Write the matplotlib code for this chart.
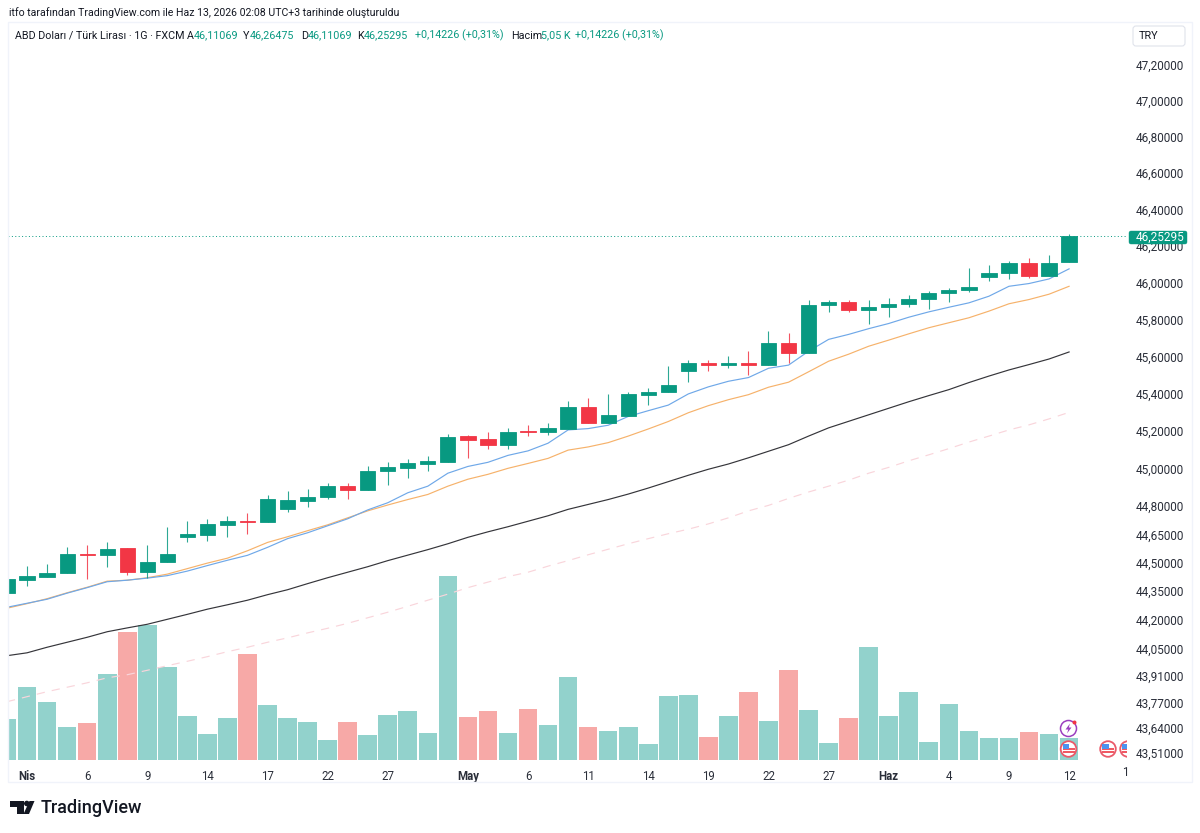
import matplotlib
matplotlib.use("Agg")
import matplotlib.pyplot as plt
from matplotlib.patches import Circle, Rectangle, Polygon, FancyBboxPatch
from matplotlib.ticker import FixedLocator, NullLocator, FixedFormatter

plt.rcParams['font.family'] = ['Roboto', 'DejaVu Sans']

opens = [44.343,44.411,44.427,44.448,44.548,44.542,44.579,44.453,44.506,44.637,44.648,44.700,44.721,44.716,44.784,44.826,44.847,44.905,44.884,44.984,45.000,45.022,45.032,45.172,45.156,45.124,45.199,45.194,45.210,45.329,45.243,45.280,45.394,45.410,45.524,45.567,45.556,45.567,45.556,45.675,45.621,45.876,45.892,45.849,45.865,45.886,45.913,45.946,45.962,46.033,46.055,46.109,46.038,46.11069]
highs = [44.416,44.485,44.495,44.584,44.595,44.611,44.579,44.595,44.690,44.721,44.732,44.748,44.763,44.858,44.879,44.890,44.921,44.921,45.015,45.032,45.048,45.064,45.183,45.178,45.194,45.216,45.232,45.243,45.362,45.378,45.399,45.410,45.432,45.546,45.578,45.578,45.600,45.627,45.740,45.729,45.903,45.903,45.903,45.903,45.919,45.930,45.957,45.973,46.082,46.098,46.120,46.136,46.153,46.26475]
lows = [44.343,44.379,44.427,44.448,44.416,44.479,44.437,44.421,44.506,44.611,44.616,44.637,44.653,44.716,44.769,44.795,44.837,44.837,44.884,44.911,44.947,44.984,45.032,45.053,45.102,45.102,45.172,45.178,45.210,45.243,45.243,45.280,45.340,45.410,45.464,45.524,45.535,45.502,45.556,45.567,45.621,45.843,45.843,45.773,45.811,45.870,45.859,45.892,45.951,46.011,46.022,46.027,46.038,46.11069]
closes = [44.416,44.432,44.448,44.548,44.542,44.574,44.453,44.506,44.548,44.653,44.705,44.721,44.716,44.837,44.832,44.847,44.905,44.884,44.984,45.005,45.027,45.037,45.167,45.151,45.124,45.194,45.194,45.216,45.329,45.243,45.286,45.399,45.410,45.448,45.567,45.556,45.567,45.556,45.675,45.621,45.876,45.892,45.849,45.870,45.886,45.913,45.946,45.962,45.978,46.055,46.109,46.038,46.109,46.25295]
volumes = [9.20,16.51,13.20,7.46,8.37,19.38,29.03,30.54,21.04,9.95,5.96,9.58,23.90,12.44,9.58,8.60,4.60,8.60,5.58,10.10,11.08,6.18,41.70,9.73,11.08,6.18,11.61,7.99,18.77,7.39,6.48,7.39,3.62,14.40,14.78,5.20,10.03,15.38,8.75,20.28,11.39,3.85,9.50,25.56,10.03,15.38,4.07,12.74,6.48,4.98,4.98,6.26,5.88,5.05]
volume_up = [1,1,1,1,0,1,0,1,1,1,1,1,0,1,1,1,1,0,1,1,1,1,1,0,0,1,0,1,1,0,1,1,1,1,1,0,1,0,1,0,1,1,0,1,1,1,1,1,1,1,1,0,1,1]
ema_blue = [44.266,44.287,44.308,44.340,44.369,44.400,44.408,44.419,44.432,44.456,44.485,44.513,44.539,44.581,44.627,44.658,44.695,44.732,44.779,44.817,44.870,44.905,44.974,45.010,45.032,45.069,45.093,45.134,45.205,45.212,45.230,45.277,45.308,45.338,45.398,45.436,45.466,45.486,45.536,45.553,45.628,45.692,45.719,45.750,45.778,45.812,45.841,45.866,45.890,45.926,45.980,45.995,46.020,46.075]
ema_orange = [44.261,44.285,44.311,44.342,44.371,44.403,44.408,44.421,44.440,44.469,44.498,44.524,44.563,44.607,44.637,44.669,44.700,44.737,44.774,44.805,44.834,44.861,44.905,44.942,44.968,45.000,45.026,45.053,45.097,45.114,45.137,45.172,45.210,45.250,45.297,45.335,45.367,45.394,45.434,45.461,45.517,45.574,45.612,45.655,45.688,45.722,45.755,45.782,45.809,45.845,45.885,45.908,45.937,45.980]
ema_black = [44.013,44.028,44.057,44.083,44.109,44.138,44.158,44.177,44.203,44.229,44.256,44.279,44.303,44.332,44.358,44.390,44.421,44.450,44.479,44.511,44.540,44.569,44.600,44.634,44.663,44.690,44.719,44.748,44.782,44.808,44.834,44.863,44.895,44.929,44.963,44.995,45.023,45.056,45.091,45.126,45.172,45.216,45.251,45.286,45.321,45.356,45.389,45.421,45.459,45.494,45.527,45.556,45.586,45.624]
ema_pink = [43.774,43.800,43.826,43.849,43.872,43.898,43.914,43.937,43.961,43.984,44.008,44.034,44.057,44.083,44.106,44.132,44.156,44.182,44.211,44.240,44.271,44.303,44.335,44.369,44.398,44.427,44.450,44.482,44.511,44.542,44.571,44.600,44.627,44.653,44.677,44.705,44.737,44.774,44.803,44.840,44.874,44.905,44.937,44.974,45.005,45.040,45.072,45.105,45.140,45.172,45.205,45.232,45.264,45.299]
price_ticks = [47.2,47.0,46.8,46.6,46.4,46.2,46.0,45.8,45.6,45.4,45.2,45.0,44.8,44.65,44.5,44.35,44.2,44.05,43.91,43.77,43.64,43.51]
time_pos = [1,4,7,10,13,16,19,23,26,29,32,35,38,41,44,47,50,53]
time_labels = ['Nis','6','9','14','17','22','27','May','6','11','14','19','22','27','Haz','4','9','12']
bold_labels = {'Nis','May','Haz'}
last_price = closes[-1]

GREEN, RED = '#089981', '#F23645'
W, H = 1200, 833
L, R, T, B = 8, 1127, 22, 760
xs = list(range(len(closes)))

fig = plt.figure(figsize=(12, 8.33), dpi=100, facecolor='white')
rect = [L/W, 1-B/H, (R-L)/W, (B-T)/H]
vol = fig.add_axes(rect, zorder=1)
ax = fig.add_axes(rect, zorder=2)
ax.patch.set_visible(False)

# volume
vol.bar(xs, volumes, width=0.93, color=['#92d2cc' if u else '#f7a9a7' for u in volume_up], linewidth=0)
vol.set_xlim(0.05, 55.89)
vol.set_ylim(0, 166.9)
vol.axis('off')

# price panel
ax.set_yscale('log')
ax.set_xlim(0.05, 55.89)
ax.set_ylim(43.473, 47.441)

ax.plot(xs, ema_pink, color='#f9d5db', lw=0.85, dashes=(7, 6), zorder=2)
ax.plot(xs, ema_black, color='#35353a', lw=0.85, zorder=2)
ax.plot(xs, ema_orange, color='#f6b26b', lw=0.85, zorder=2)
ax.plot(xs, ema_blue, color='#6fa8e8', lw=0.85, zorder=2)
ax.axhline(last_price, color=GREEN, lw=0.7, dashes=(1, 2.5), zorder=2)

cols = [GREEN if c >= o else RED for o, c in zip(opens, closes)]
ax.vlines(xs, lows, highs, colors=cols, lw=0.8, alpha=0.85, zorder=3)
ax.bar(xs, [abs(c-o) for o, c in zip(opens, closes)], bottom=[min(o, c) for o, c in zip(opens, closes)],
       width=0.76, color=cols, edgecolor=cols, linewidth=0.6, zorder=4)

ax.yaxis.tick_right()
ax.yaxis.set_major_locator(FixedLocator(price_ticks))
ax.yaxis.set_major_formatter(FixedFormatter([f"{v:.5f}".replace('.', ',') for v in price_ticks]))
ax.yaxis.set_minor_locator(NullLocator())
ax.tick_params(axis='y', which='major', length=0, pad=6.5, labelsize=8.5, labelcolor='#2a2e39')
ax.set_xticks(time_pos)
ax.set_xticklabels(time_labels, fontsize=8.3, color='#2a2e39')
for t in ax.get_xticklabels():
    if t.get_text() in bold_labels:
        t.set_fontweight('bold')
ax.tick_params(axis='x', length=0, pad=7)
for s in ax.spines.values():
    s.set_visible(False)

# overlay in pixel coordinates for chrome
ov = fig.add_axes([0, 0, 1, 1], zorder=5)
ov.set_xlim(0, W); ov.set_ylim(H, 0); ov.axis('off'); ov.patch.set_visible(False)
ov.add_patch(Rectangle((8, 22), 1184, 760, fill=False, ec='#f0f3fa', lw=1))

TXT = '#131722'
ov.text(9, 13, 'itfo tarafından TradingView.com ile Haz 13, 2026 02:08 UTC+3 tarihinde oluşturuldu',
        fontsize=7.6, color=TXT, va='center')
head = [(15,'ABD Doları / Türk Lirası · 1G · FXCM',TXT),(187,'A',TXT),(194,'46,11069',GREEN),(243,'Y',TXT),(250,'46,26475',GREEN),
        (301,'D',TXT),(308,'46,11069',GREEN),(357,'K',TXT),(364,'46,25295',GREEN),(415,'+0,14226 (+0,31%)',GREEN),
        (511,'Hacim',TXT),(541,'5,05 K',GREEN),(575,'+0,14226 (+0,31%)',GREEN)]
for x, s, c in head:
    ov.text(x, 35.5, s, fontsize=7.75, color=c, va='center')

ov.add_patch(FancyBboxPatch((1133, 26), 52, 20, boxstyle='round,pad=0,rounding_size=3', fc='white', ec='#e0e3eb', lw=0.8))
ov.text(1149, 36, 'TRY', fontsize=7.8, color=TXT, ha='center', va='center')

ov.add_patch(FancyBboxPatch((1129, 231), 58, 13, boxstyle='round,pad=0,rounding_size=2', fc=GREEN, ec=GREEN, lw=0.3))
ov.text(1136, 237.5, f"{last_price:.5f}".replace('.', ','), fontsize=8.5, color='white', va='center')

ov.text(1125, 772, '1', fontsize=8.3, color='#2a2e39', ha='center', va='center')

# event icons
def flag(cx, cy, clip=None):
    parts = [Circle((cx, cy), 7.8, fc='white', ec='#ea5a6a', lw=1.3),
             Rectangle((cx-6, cy-1), 12, 1.8, fc='#ef5a64', lw=0),
             Rectangle((cx-6, cy+2.2), 12, 1.8, fc='#ef5a64', lw=0),
             Rectangle((cx-6, cy-5.5), 6.5, 5, fc='#4c93f0', lw=0)]
    for p in parts:
        ov.add_patch(p)
        if clip is not None:
            p.set_clip_path(clip)
clipper = Rectangle((0, 0), R, H, transform=ov.transData)
flag(1068.5, 749)
flag(1108, 749)
flag(1128, 749, clipper)
ov.add_patch(Circle((1068.5, 728.5), 8, fc='white', ec='#9c3fc0', lw=1.1))
ov.add_patch(Polygon([(1070,723.5),(1065.5,729.5),(1068.3,729.5),(1067,733.5),(1071.5,727.5),(1068.8,727.5)], fc='#9c3fc0', lw=0))
ov.add_patch(Circle((1074.5, 722.5), 2, fc='#f23645', lw=0))

# logo
LOGO = '#131722'
ov.add_patch(Polygon([(10,801),(23.5,801),(23.5,814),(16.7,814),(16.7,806.7),(10,806.7)], fc=LOGO, lw=0))
ov.add_patch(Circle((26.8, 803.5), 2.8, fc=LOGO, lw=0))
ov.add_patch(Polygon([(29.5,801),(34.5,801),(29,814),(23.5,814)], fc=LOGO, lw=0))
ov.text(41, 808, 'TradingView', fontsize=13.0, fontweight='medium', color=LOGO, va='center')

fig.savefig('out.png', dpi=100, facecolor='white')
